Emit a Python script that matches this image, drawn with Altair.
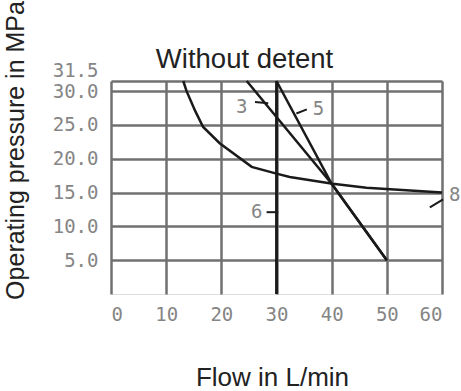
import altair as alt
import pandas as pd

# Curves (flow in L/min, pressure in MPa)
c8_x = [13.1, 13.7, 15.3, 16.7, 19.7, 25.5, 30.0, 32.4, 40.2, 46.3, 60.0]
c8_y = [31.5, 30.0, 27.0, 24.7, 22.3, 18.8, 17.8, 17.3, 16.3, 15.7, 15.0]
c3_x = [24.6, 40.0, 50.0]
c3_y = [31.5, 16.3, 5.0]
c5_x = [30.0, 40.0, 50.0]
c5_y = [31.5, 16.3, 5.0]
c6_x = [30.0, 30.0]
c6_y = [0.0, 31.5]

# Curve labels and their leader lines
lab_text = ["3", "5", "6", "8"]
lab_x = [23.7, 37.6, 26.4, 62.3]
lab_y = [27.7, 27.3, 12.2, 14.6]
lead_x = [26.1, 33.6, 28.2, 57.8]
lead_y = [28.4, 26.7, 12.1, 12.8]
lead_x2 = [28.5, 35.5, 30.3, 60.2]
lead_y2 = [28.2, 27.3, 12.1, 14.0]

x_ticks = [0, 10, 20, 30, 40, 50, 60]
y_ticks = [5, 10, 15, 20, 25, 30, 31.5]

rows = []
for name, xs, ys in [("8", c8_x, c8_y), ("3", c3_x, c3_y), ("5", c5_x, c5_y), ("6", c6_x, c6_y)]:
    for i, (a, b) in enumerate(zip(xs, ys)):
        rows.append({"series": name, "idx": i, "x": a, "y": b})
curves = pd.DataFrame(rows)
labels = pd.DataFrame({"t": lab_text, "x": lab_x, "y": lab_y})
leaders = pd.DataFrame({"x": lead_x, "y": lead_y, "x2": lead_x2, "y2": lead_y2})

xscale = alt.Scale(domain=[0, 60], nice=False, zero=False)
yscale = alt.Scale(domain=[0, 31.5], nice=False, zero=False)

tick_font = "DejaVu Sans Mono"
tick_color = "#858585"
grid_color = "#707070"
title_font = "Liberation Sans"
ink = "#222222"

xaxis = alt.Axis(values=x_ticks, tickCount=20, format="d", labelFont=tick_font, labelFontSize=19,
                 labelColor=tick_color, labelPadding=11, ticks=False, domain=False,
                 labelOverlap=False,
                 grid=True, gridColor=grid_color, gridWidth=2.5, gridOpacity=1,
                 title="Flow in L/min", titleFont=title_font, titleFontSize=26,
                 titleFontWeight="normal", titleColor=ink,
                 titleX=161, titleY=91, titleBaseline="alphabetic", titleAlign="center")
yaxis = alt.Axis(values=y_ticks, tickCount=20, format=".1f", labelFont=tick_font, labelFontSize=19,
                 labelColor=tick_color, labelPadding=13, ticks=False, domain=False,
                 labelOverlap=False,
                 labelOffset={"condition": {"test": "datum.value == 31.5", "value": -11},
                              "value": 0},
                 grid=True, gridColor=grid_color, gridWidth=2.5, gridOpacity=1,
                 title="Operating pressure in MPa", titleFont=title_font, titleFontSize=25,
                 titleFontWeight="normal", titleColor=ink,
                 titleX=-96, titleY=69, titleBaseline="middle", titleAlign="center", titleAngle=-90)
top_axis = alt.Axis(orient="top", labels=False, ticks=False, domain=False, grid=False,
                    title="Without detent", titleFont=title_font, titleFontSize=27.5,
                    titleFontWeight="normal", titleColor=ink,
                    titleX=133, titleY=-14, titleBaseline="alphabetic", titleAlign="center")

lines = alt.Chart(curves).mark_line(color="#1a1a1a", strokeWidth=2.5, clip=False).encode(
    x=alt.X("x:Q", scale=xscale, axis=xaxis),
    y=alt.Y("y:Q", scale=yscale, axis=yaxis),
    detail="series:N",
    order="idx:Q",
)

top_layer = alt.Chart(curves).transform_filter(alt.datum.series == "6").mark_line(
    color="#1a1a1a", strokeWidth=2.5).encode(
    x=alt.X("x:Q", scale=xscale, axis=top_axis),
    y=alt.Y("y:Q", scale=yscale),
)

lead = alt.Chart(leaders).mark_rule(color="#1a1a1a", strokeWidth=2, clip=False).encode(
    x=alt.X("x:Q", scale=xscale, axis=None), y=alt.Y("y:Q", scale=yscale),
    x2="x2:Q", y2="y2:Q")

text = alt.Chart(labels).mark_text(font=tick_font, fontSize=19, color=tick_color, clip=False).encode(
    x=alt.X("x:Q", scale=xscale, axis=None), y=alt.Y("y:Q", scale=yscale), text="t:N")

chart = alt.layer(lines, top_layer, lead, text).resolve_axis(x="independent").properties(
    width=331, height=213,
    autosize=alt.AutoSizeParams(type="none"),
    padding={"left": 111, "top": 81, "right": 19, "bottom": 97},
    title=alt.TitleParams("Flow in L/min", font=title_font, fontSize=26, fontWeight="normal",
                          color=ink, anchor="start", frame="group", dx=84, offset=36,
                          baseline="alphabetic"),
).configure_view(stroke=grid_color, strokeWidth=2.5).configure(background="white")

chart.save("out.html", embed_options={"renderer": "svg", "actions": False})
